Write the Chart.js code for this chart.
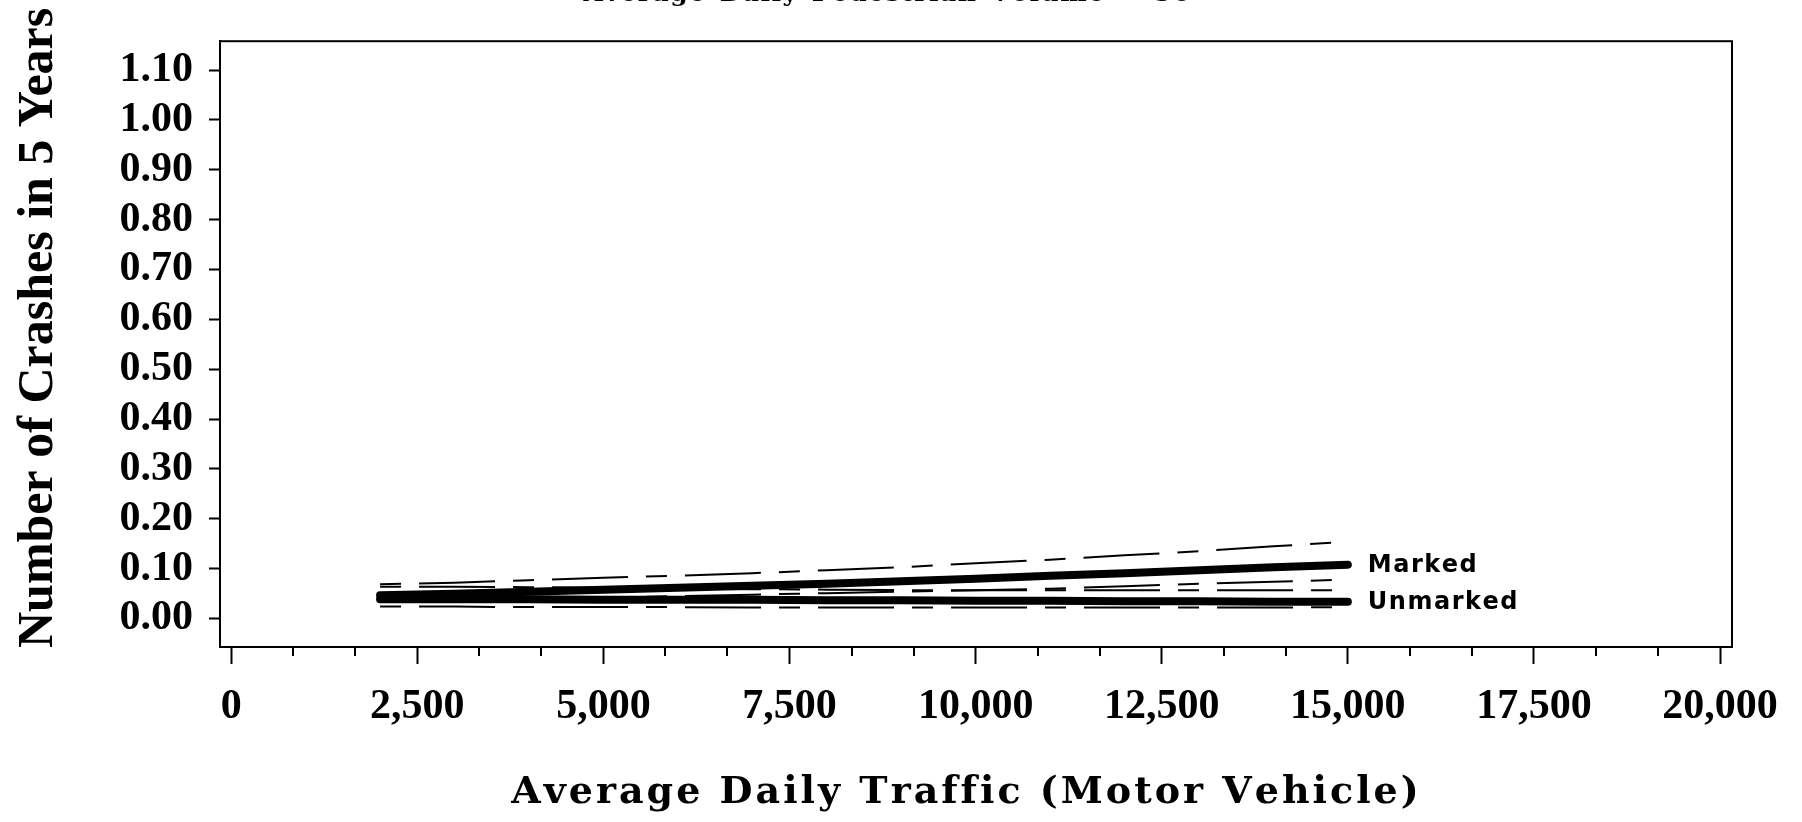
<!DOCTYPE html>
<html>
<head>
<meta charset="utf-8">
<title>Crashes vs Average Daily Traffic</title>
<script src="https://cdn.jsdelivr.net/npm/chart.js@4.4.1/dist/chart.umd.min.js"></script>
<style>
    html, body { margin: 0; padding: 0; background: #fff; }
    canvas { display: block; }
</style>
</head>
<body>
<canvas id="crashChart" width="1802" height="822"></canvas>
<script>
// chart data
const adt = [2000, 3000, 4000, 5000, 6000, 7000, 8000, 9000, 10000, 11000, 12000, 13000, 14000, 15000];

const markedMean  = [0.047, 0.050, 0.054, 0.058, 0.062, 0.066, 0.070, 0.075, 0.080, 0.086, 0.091, 0.097, 0.103, 0.108];
const markedUpper = [0.069, 0.072, 0.077, 0.082, 0.086, 0.091, 0.097, 0.103, 0.111, 0.118, 0.127, 0.135, 0.145, 0.154];
const markedLower = [0.035, 0.037, 0.039, 0.042, 0.045, 0.048, 0.051, 0.054, 0.057, 0.060, 0.065, 0.070, 0.074, 0.078];

const unmarkedMean  = [0.039, 0.039, 0.039, 0.038, 0.038, 0.038, 0.037, 0.037, 0.036, 0.036, 0.035, 0.035, 0.034, 0.034];
const unmarkedUpper = [0.064, 0.064, 0.063, 0.062, 0.060, 0.059, 0.058, 0.057, 0.057, 0.057, 0.057, 0.057, 0.057, 0.057];
const unmarkedLower = [0.024, 0.024, 0.023, 0.023, 0.023, 0.022, 0.022, 0.022, 0.022, 0.022, 0.022, 0.022, 0.022, 0.023];

const xTickValues = [0, 2500, 5000, 7500, 10000, 12500, 15000, 17500, 20000];
const yTickValues = [0, 0.1, 0.2, 0.3, 0.4, 0.5, 0.6, 0.7, 0.8, 0.9, 1.0, 1.1];

const seriesNames = ['Marked', 'Unmarked'];
const topTitle = 'Average Daily Pedestrian Volume = 50';
const xTitle = 'Average Daily Traffic (Motor Vehicle)';
const yTitle = 'Number of Crashes in 5 Years';

// two minor ticks between each labelled tick
const xMinorTicks = [];
for (let i = 0; i < xTickValues.length - 1; i++) {
    const a = xTickValues[i], b = xTickValues[i + 1];
    xMinorTicks.push(a + (b - a) / 3, a + 2 * (b - a) / 3);
}

const serif = '"Liberation Serif", "Times New Roman", serif';
const wideSerif = '"DejaVu Serif", serif';

const toPoints = (ys) => adt.map((x, i) => ({x: x, y: ys[i]}));

const solidLine = (label, ys) => ({
    label: label,
    data: toPoints(ys),
    borderColor: '#000',
    borderWidth: 8,
    borderCapStyle: 'round',
    borderJoinStyle: 'round',
    pointRadius: 0,
    tension: 0,
    fill: false
});

const dashedLine = (label, ys) => ({
    label: label,
    data: toPoints(ys),
    borderColor: '#000',
    borderWidth: 2,
    borderDash: [21, 18, 76, 18],
    pointRadius: 0,
    tension: 0,
    fill: false
});

// text centred on cx; the spare width goes into the word gaps
function drawSpread(ctx, text, cx, y, width, letterGap) {
    const chars = [...text];
    const widths = chars.map(c => ctx.measureText(c).width);
    const natural = widths.reduce((s, w) => s + w, 0) + letterGap * (chars.length - 1);
    const spaces = chars.filter(c => c === ' ').length;
    const extra = spaces ? Math.max(0, (width - natural) / spaces) : 0;
    let x = cx - (natural + extra * spaces) / 2;
    ctx.textAlign = 'left';
    chars.forEach((c, i) => {
        ctx.fillText(c, x, y);
        x += widths[i] + letterGap + (c === ' ' ? extra : 0);
    });
}

const framePlugin = {
    id: 'frame',
    afterDraw(chart) {
        const {ctx, chartArea: a} = chart;
        ctx.save();
        ctx.strokeStyle = '#000';
        ctx.lineWidth = 2;
        ctx.strokeRect(a.left, a.top, a.right - a.left, a.bottom - a.top);

        // minor ticks on the x axis
        const xs = chart.scales.x;
        xMinorTicks.forEach(v => {
            const px = Math.round(xs.getPixelForValue(v));
            ctx.beginPath();
            ctx.moveTo(px, xs.top);
            ctx.lineTo(px, xs.top + 9);
            ctx.stroke();
        });
        ctx.restore();
    }
};

const endLabelPlugin = {
    id: 'endLabels',
    afterDatasetsDraw(chart) {
        const ctx = chart.ctx;
        ctx.save();
        ctx.fillStyle = '#000';
        ctx.font = 'bold 24px "DejaVu Sans", sans-serif';
        ctx.textBaseline = 'middle';
        seriesNames.forEach((name, i) => {
            const pts = chart.getDatasetMeta(i).data;
            const last = pts[pts.length - 1];
            let x = last.x + 20;
            [...name].forEach(c => {
                ctx.fillText(c, x, last.y + 1);
                x += ctx.measureText(c).width + 1.5;
            });
        });
        ctx.restore();
    }
};

const titlePlugin = {
    id: 'titles',
    afterDraw(chart) {
        const {ctx, chartArea: a} = chart;
        ctx.save();
        ctx.fillStyle = '#000';
        ctx.textBaseline = 'alphabetic';

        // y title, rotated
        ctx.save();
        ctx.font = `bold 50px ${serif}`;
        ctx.translate(52, a.bottom + 1);
        ctx.rotate(-Math.PI / 2);
        ctx.textAlign = 'left';
        ctx.fillText(yTitle, 0, 0);
        ctx.restore();

        // x title
        ctx.font = `bold 38px ${wideSerif}`;
        drawSpread(ctx, xTitle, 965, 803, 898, 3);

        // top title, mostly cut off by the page edge
        ctx.font = `bold 25px ${wideSerif}`;
        drawSpread(ctx, topTitle, 887, 1, 607, 1.5);
        ctx.restore();
    }
};

const ctx = document.getElementById('crashChart').getContext('2d');
new Chart(ctx, {
    type: 'line',
    data: {
        datasets: [
            solidLine(seriesNames[0], markedMean),
            solidLine(seriesNames[1], unmarkedMean),
            dashedLine('Marked upper', markedUpper),
            dashedLine('Marked lower', markedLower),
            dashedLine('Unmarked upper', unmarkedUpper),
            dashedLine('Unmarked lower', unmarkedLower)
        ]
    },
    options: {
        responsive: false,
        animation: false,
        layout: { padding: { top: 41, right: 70, left: 0, bottom: 0 } },
        plugins: {
            legend: { display: false },
            tooltip: { enabled: false }
        },
        scales: {
            x: {
                type: 'linear',
                min: -150,
                max: 20160,
                afterBuildTicks: (scale) => { scale.ticks = xTickValues.map(v => ({value: v})); },
                afterFit: (scale) => { scale.height = 175; },
                ticks: {
                    color: '#000',
                    padding: 18,
                    maxRotation: 0,
                    font: { family: serif, size: 42, weight: 'bold' },
                    callback: (v) => v.toLocaleString('en-US')
                },
                grid: { drawOnChartArea: false, drawTicks: true, tickLength: 17, tickWidth: 2, tickColor: '#000' },
                border: { display: true, color: '#000', width: 2 }
            },
            y: {
                type: 'linear',
                min: -0.057,
                max: 1.158,
                afterBuildTicks: (scale) => { scale.ticks = yTickValues.map(v => ({value: v})); },
                afterFit: (scale) => { scale.width = 220; },
                ticks: {
                    color: '#000',
                    padding: 16,
                    font: { family: serif, size: 42, weight: 'bold' },
                    callback: (v) => v.toFixed(2)
                },
                grid: { drawOnChartArea: false, drawTicks: true, tickLength: 11, tickWidth: 2, tickColor: '#000' },
                border: { display: true, color: '#000', width: 2 }
            }
        }
    },
    plugins: [framePlugin, endLabelPlugin, titlePlugin]
});
</script>
</body>
</html>
